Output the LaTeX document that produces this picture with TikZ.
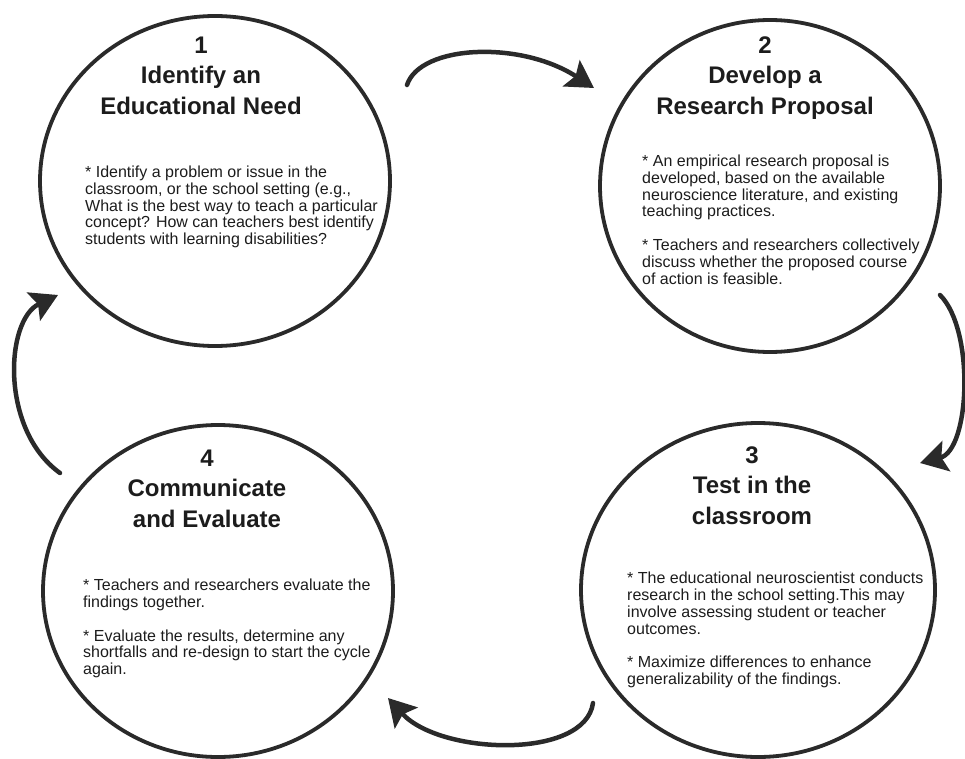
\documentclass[tikz,border=0pt]{standalone}
\usepackage{fontspec}
\setmainfont{Liberation Sans}
\usetikzlibrary{shapes.geometric,arrows.meta}
\definecolor{ink}{HTML}{2A2A2A}
\definecolor{txt}{HTML}{1C1C1C}
\begin{document}
\begin{tikzpicture}[x=1pt,y=-1pt,
  bubble/.style={ellipse, draw=ink, line width=3.8pt, inner sep=0pt},
  titletext/.style={font=\fontsize{24}{30.5}\selectfont\bfseries, align=center, text=txt, inner sep=0pt, anchor=north},
  bodytext/.style={font=\fontsize{16}{16.9}\selectfont, align=left, text=txt, inner sep=0pt, anchor=north west},
  cyclearrow/.style={draw=ink, line width=4.5pt, line cap=round, -{Stealth[length=27pt,width=31pt,inset=5pt]}}]
\useasboundingbox (0,0) rectangle (965,759);

% circles
\node[bubble, minimum width=350pt, minimum height=330pt] (c1) at (215,181) {};
\node[bubble, minimum width=340pt, minimum height=332pt] (c2) at (770,186) {};
\node[bubble, minimum width=354pt, minimum height=334pt] (c3) at (758,590) {};
\node[bubble, minimum width=350pt, minimum height=332pt] (c4) at (218,591) {};

% titles
\node[titletext] (t1) at (201,36.5) {1\\Identify an\\Educational Need};
\node[titletext] (t2) at (765,36.5) {2\\Develop a\\Research Proposal};
\node[titletext] (t3) at (752,446.5) {3\\Test in the\\classroom};
\node[titletext] (t4) at (207,449.5) {4\\Communicate\\and Evaluate};

% bodies
\node[bodytext] (b1) at (85,165.5) {* Identify a problem or issue in the\\classroom, or the school setting (e.g.,\\What is the best way to teach a particular\\concept? How can teachers best identify\\students with learning disabilities?};
\node[bodytext] (b2) at (642,154.5) {* An empirical research proposal is\\developed, based on the available\\neuroscience literature, and existing\\teaching practices.\\[16.9pt]* Teachers and researchers collectively\\discuss whether the proposed course\\of action is feasible.};
\node[bodytext] (b3) at (627,571.5) {* The educational neuroscientist conducts\\research in the school setting.This may\\involve assessing student or teacher\\outcomes.\\[16.9pt]* Maximize differences to enhance\\generalizability of the findings.};
\node[bodytext] (b4) at (83,578.5) {* Teachers and researchers evaluate the\\findings together.\\[16.9pt]* Evaluate the results, determine any\\shortfalls and re-design to start the cycle\\again.};

% arrow ends
\coordinate (a1s) at (407,85);
\coordinate (a1e) at (594,88);
\coordinate (a2s) at (940,295);
\coordinate (a2e) at (920,463);
\coordinate (a3s) at (593,703);
\coordinate (a3e) at (388,698);
\coordinate (a4s) at (60,473);
\coordinate (a4e) at (58,295);

\draw[cyclearrow] (a1s) .. controls (420,45) and (520,40) .. (a1e);
\draw[cyclearrow] (a2s) .. controls (975,330) and (970,450) .. (a2e);
\draw[cyclearrow] (a3s) .. controls (585,760) and (440,755) .. (a3e);
\draw[cyclearrow] (a4s) .. controls (0,430) and (5,320) .. (a4e);
\end{tikzpicture}
\end{document}
